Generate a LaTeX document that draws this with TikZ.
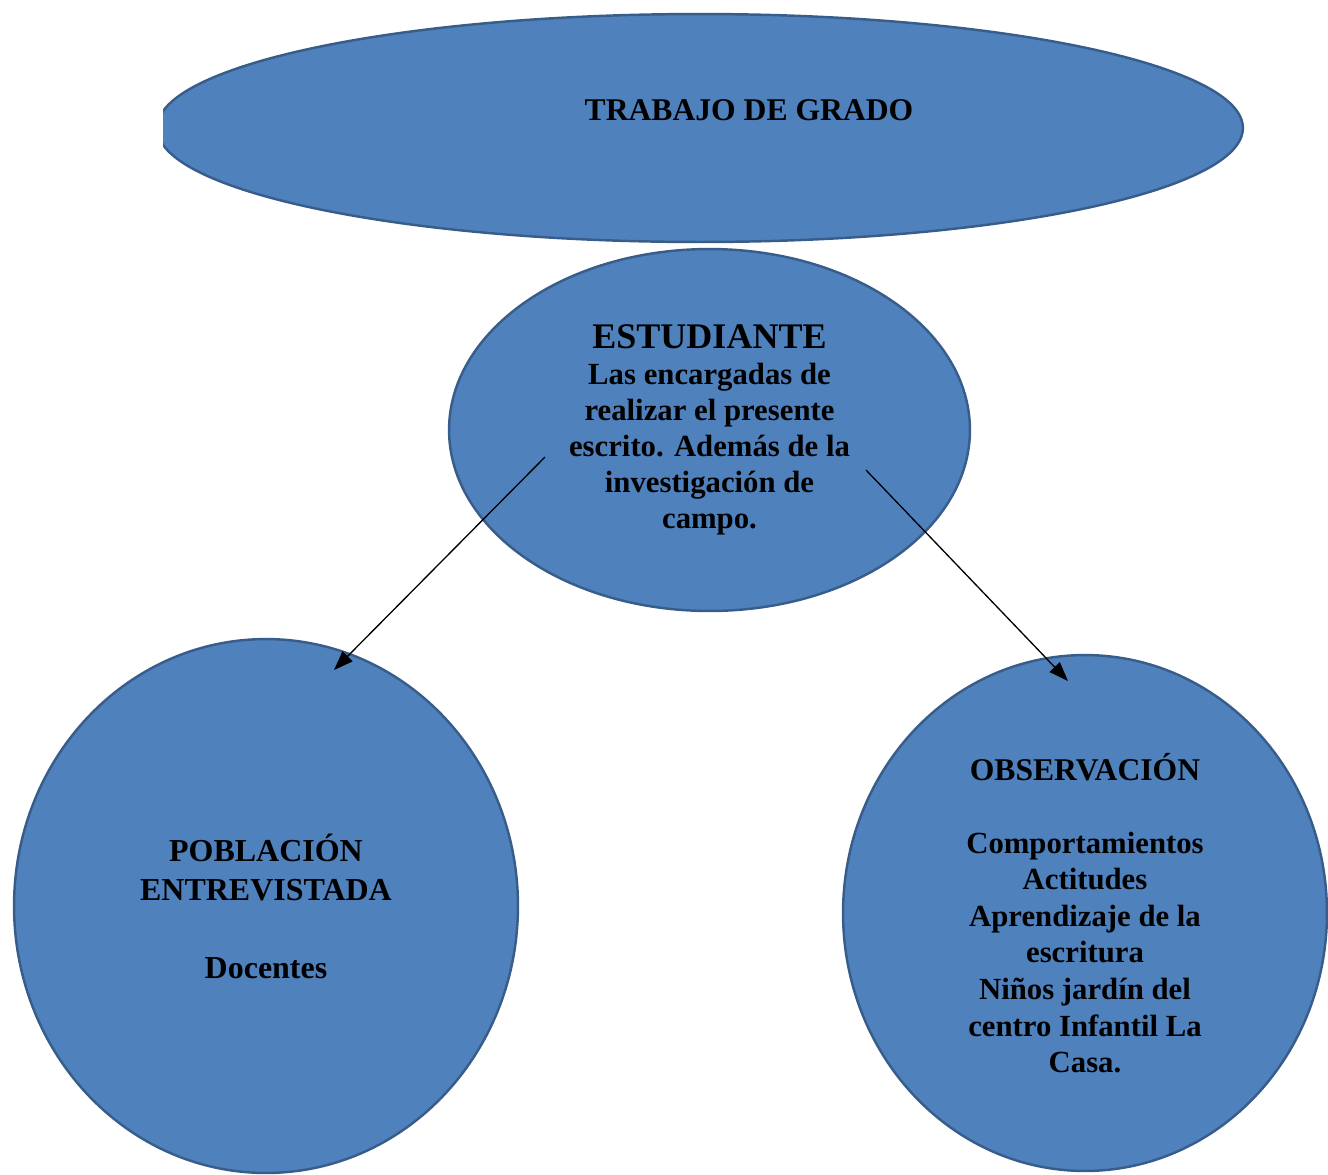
\documentclass[tikz,border=0pt]{standalone}
\usepackage{fontspec}
\setmainfont{Liberation Serif}
\usetikzlibrary{calc,shapes.geometric,arrows.meta}
\definecolor{azul}{HTML}{4F81BD}
\definecolor{azulborde}{HTML}{385D8A}

\begin{document}
\begin{tikzpicture}[x=0.02cm,y=-0.02cm,
		elipse/.style={ellipse,fill=azul,draw=azulborde,line width=1.4pt,inner sep=0pt,align=center,font=\bfseries},
		flecha/.style={-{Triangle[length=11pt,width=8pt]},line width=0.75pt}]
		\useasboundingbox (0,0) rectangle (1328,1174);
		\begin{scope}
			\clip (163,0) rectangle (1328,260);
			\node[elipse,minimum width=21.72cm,minimum height=4.56cm] (tg) at (700,128) {};
		\end{scope}
		\node[font=\bfseries\fontsize{18}{21}\selectfont] (tgtxt) at ($(tg.center)+(49,-18)$) {TRABAJO DE GRADO};
		\node[elipse,minimum width=10.42cm,minimum height=7.24cm,font=\bfseries\fontsize{17.5}{20.5}\selectfont] (est) at (709.5,430)
			{{\fontsize{20.5}{21.5}\selectfont ESTUDIANTE}\\ Las encargadas de\\ realizar el presente\\ escrito. Además de la\\ investigación de\\ campo.};
		\node[elipse,minimum width=10.08cm,minimum height=10.68cm,font=\bfseries\fontsize{18.2}{22.2}\selectfont] (pob) at (266,906)
			{POBLACIÓN\\ ENTREVISTADA\\[22.2pt] Docentes};
		\node[elipse,minimum width=9.68cm,minimum height=10.32cm,font=\bfseries\fontsize{17.5}{20.8}\selectfont] (obs) at (1085,913)
			{{\fontsize{18}{20.8}\selectfont OBSERVACIÓN}\\[20.8pt] Comportamientos\\ Actitudes\\ Aprendizaje de la\\ escritura\\ Niños jardín del\\ centro Infantil La\\ Casa.};
		\coordinate (estizq) at ($(est.center)+(-164.5,27)$);
		\coordinate (estder) at ($(est.center)+(156.5,40)$);
		\coordinate (pobarr) at ($(pob.center)+(68,-236)$);
		\coordinate (obsarr) at ($(obs.center)+(-17,-232)$);
		\draw[flecha] (estizq) -- (pobarr);
		\draw[flecha] (estder) -- (obsarr);
	\end{tikzpicture}
\end{document}
